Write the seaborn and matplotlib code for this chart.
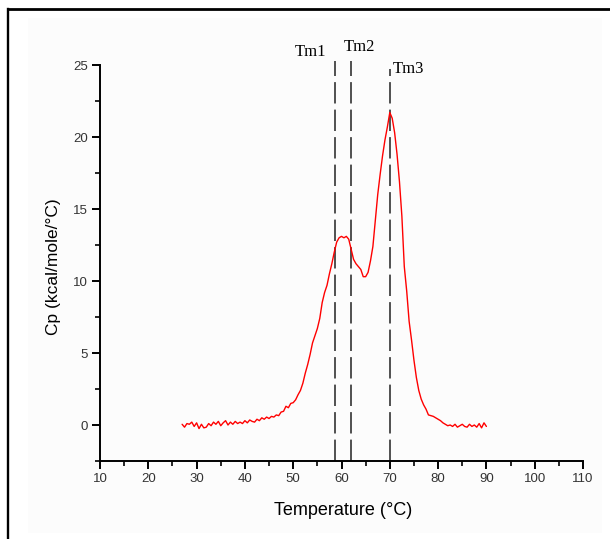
import numpy as np
import matplotlib
matplotlib.use("Agg")
import matplotlib.pyplot as plt
from matplotlib.lines import Line2D
from matplotlib.patches import Rectangle
from matplotlib.ticker import MultipleLocator
import seaborn as sns

# DSC thermogram: excess heat capacity vs temperature (0.5 degC steps, 27-90 degC)
cp = [
    0.05, -0.15, 0.10, 0.05, 0.20, -0.10, 0.15,                          # 27.0-30.0
    -0.25, 0.05, -0.20, -0.15, 0.10, -0.05, 0.20, 0.05, 0.25, -0.05,     # 30.5-35.0
    0.15, 0.30, 0.00, 0.20, 0.05, 0.25, 0.10, 0.20, 0.10, 0.30,          # 35.5-40.0
    0.15, 0.35, 0.25, 0.20, 0.40, 0.30, 0.50, 0.40, 0.55, 0.45,          # 40.5-45.0
    0.60, 0.55, 0.70, 0.65, 0.90, 0.95, 1.30, 1.20, 1.50, 1.55,          # 45.5-50.0
    1.75, 2.10, 2.40, 2.90, 3.60, 4.20, 4.90, 5.70, 6.20, 6.70,          # 50.5-55.0
    7.40, 8.50, 9.20, 9.70, 10.50, 11.20, 12.00, 12.70, 13.00, 13.10,    # 55.5-60.0
    13.00, 13.10, 12.90, 12.20, 11.50, 11.20, 11.00, 10.80, 10.30, 10.30,  # 60.5-65.0
    10.60, 11.40, 12.40, 14.20, 16.00, 17.40, 18.70, 19.80, 20.70, 21.70,  # 65.5-70.0
    21.30, 20.30, 18.80, 16.90, 14.50, 11.00, 9.30, 7.20, 5.90, 4.50,    # 70.5-75.0
    3.30, 2.40, 1.80, 1.40, 1.10, 0.70, 0.65, 0.60, 0.50, 0.40,          # 75.5-80.0
    0.30, 0.15, 0.05, -0.05, 0.00, -0.10, 0.05, -0.15, -0.05, 0.05,      # 80.5-85.0
    -0.10, -0.15, 0.05, -0.10, 0.00, -0.15, 0.10, -0.20, 0.15, -0.10,    # 85.5-90.0
]
temperature = np.linspace(27.0, 90.0, len(cp))

# transition midpoints
tm_labels = ["Tm1", "Tm2", "Tm3"]
tm_values = [58.6, 61.9, 70.0]
tm_tops = [25.25, 25.25, 24.75]

x_ticks = [10, 20, 30, 40, 50, 60, 70, 80, 90, 100, 110]
y_ticks = [0, 5, 10, 15, 20, 25]

sns.set_theme(style="ticks")
plt.rcParams["font.family"] = ["Liberation Sans", "DejaVu Sans"]

W, H = 610, 539
fig = plt.figure(figsize=(W / 100, H / 100), dpi=100)
fig.patch.set_facecolor("white")

# light panel and frame around the figure
fig.patches.append(Rectangle((28 / W, 1 - 533 / H), (602 - 28) / W, (533 - 18) / H,
                             transform=fig.transFigure, facecolor="#fcfcfc",
                             edgecolor="none", zorder=-10))
fig.lines.append(Line2D([8 / W, 8 / W], [0, 1 - 9 / H], transform=fig.transFigure,
                        color="black", lw=1.7, solid_capstyle="projecting"))
fig.lines.append(Line2D([8 / W, 1], [1 - 9 / H, 1 - 9 / H], transform=fig.transFigure,
                        color="black", lw=2.0, solid_capstyle="projecting"))

ax = fig.add_axes([100 / W, 1 - 461 / H, (583 - 100) / W, (461 - 65) / H])
ax.set_facecolor("none")

sns.lineplot(x=temperature, y=cp, ax=ax, color="#ff0000", lw=1.0)

for label, tm, top in zip(tm_labels, tm_values, tm_tops):
    ax.plot([tm, tm], [-2.5, top], color="#222222", lw=1.1,
            dashes=(14, 4), clip_on=False, zorder=1)

ax.text(tm_values[0] - 1.7, 25.9, tm_labels[0], ha="right", va="center",
        fontsize=12, family=["Liberation Serif"], color="black")
ax.text(tm_values[1] - 1.5, 26.25, tm_labels[1], ha="left", va="center",
        fontsize=12, family=["Liberation Serif"], color="black")
ax.text(tm_values[2] + 0.6, 24.7, tm_labels[2], ha="left", va="center",
        fontsize=12, family=["Liberation Serif"], color="black")

ax.set_xlim(10, 110)
ax.set_ylim(-2.5, 25)
ax.set_xticks(x_ticks)
ax.set_yticks(y_ticks)
ax.xaxis.set_minor_locator(MultipleLocator(5))
ax.yaxis.set_minor_locator(MultipleLocator(2.5))

for side in ("top", "right"):
    ax.spines[side].set_visible(False)
for side in ("left", "bottom"):
    ax.spines[side].set_linewidth(1.4)
    ax.spines[side].set_color("black")

ax.tick_params(which="major", direction="out", length=6, width=1.4,
               color="black", labelsize=9.5, labelcolor="#333333", pad=2.5)
ax.tick_params(which="minor", direction="out", length=3.5, width=1.2, color="black")

ax.set_xlabel("Temperature (°C)", fontsize=13, color="black")
ax.set_ylabel("Cp (kcal/mole/°C)", fontsize=12.5, color="black")
ax.xaxis.set_label_coords(0.503, -0.104)
ax.yaxis.set_label_coords(-0.08, 0.49)

fig.savefig("out.png", dpi=100)
